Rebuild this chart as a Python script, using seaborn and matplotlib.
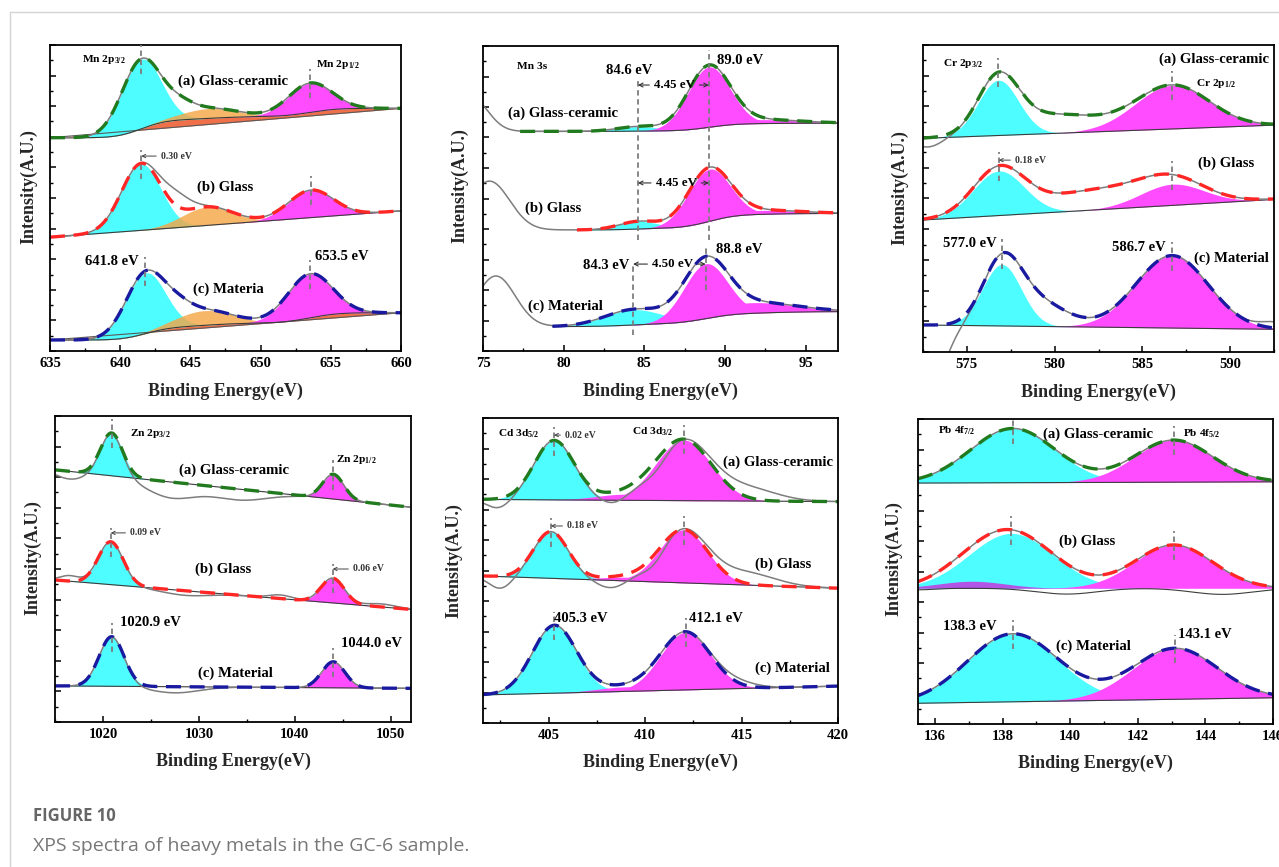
import numpy as np
import matplotlib
matplotlib.use("Agg")
import matplotlib.pyplot as plt
from matplotlib.lines import Line2D
from matplotlib.ticker import MultipleLocator
import seaborn as sns

# ---------------------------------------------------------------- data
SAMPLES = ["(a) Glass-ceramic", "(b) Glass", "(c) Material"]
MN2P_SAMPLES = ["(a) Glass-ceramic", "(b) Glass", "(c) Materia"]

# fitted components: (centre eV, height, gaussian sigma eV); heights in a.u.
MN2P_RANGE = (635, 660)
MN2P_BASE = [(69.7, 79.3), (37.2, 45.8), (3.6, 12.5)]
MN2P_PEAKS = [
    [(641.5, 22.7, 1.40), (646.3, 3.2, 2.0), (653.5, 9.6, 1.55)],
    [(641.5, 21.7, 1.40), (646.2, 6.0, 1.8), (653.6, 9.0, 1.60)],
    [(641.8, 19.8, 1.40), (646.0, 4.8, 2.0), (653.5, 14.4, 1.60)],
]
MN2P_HIDDEN = [[(644.3, 3.0, 1.0)], [], [(644.2, 3.0, 1.0)]]
MN2P_RAW = [[], [(644.0, 5.0, 1.0)], []]

MN3S_RANGE = (75, 97)
MN3S_BASE = [(72.0, 74.7), (39.7, 45.1), (8.0, 12.9)]
MN3S_PEAKS = [
    [(84.6, 1.5, 1.3), (89.0, 19.8, 1.30), (92.0, 1.3, 2.5)],
    [(84.6, 2.5, 1.2), (89.0, 17.1, 1.30), (92.0, 1.3, 2.5)],
    [(84.3, 5.0, 1.8), (88.8, 18.0, 1.35), (91.5, 3.5, 2.8)],
]
MN3S_RAW = [[(74.3, 11.0, 1.0)], [(75.4, 16.0, 1.25)], [(75.8, 16.6, 1.2)]]
MN3S_START = [77.3, 80.8, 79.3]
MN3S_SPLIT = ["4.45 eV", "4.45 eV", "4.50 eV"]

CR_RANGE = (572.5, 592.5)
CR_BASE = [(69.6, 73.9), (43.0, 49.7), (8.8, 7.4)]
CR_PEAKS = [
    [(576.8, 18.0, 1.15), (586.7, 14.2, 2.10)],
    [(576.82, 14.5, 1.45), (586.7, 6.9, 1.80)],
    [(577.0, 20.0, 1.10), (586.7, 23.6, 2.05)],
]
CR_HIDDEN = [[(580.0, 6.0, 2.5)], [(582.5, 6.5, 3.5)], [(579.0, 8.0, 1.6)]]
CR_RAW = [[(572.8, -3.0, 0.8)], [], [(572.3, -30.0, 1.1), (592.5, 2.0, 0.8)]]

ZN_RANGE = (1015, 1052.1)
ZN_BASE = [(82.4, 70.2), (46.4, 36.8), (11.8, 11.0)]
ZN_PEAKS = [
    [(1020.9, 14.0, 1.15), (1044.0, 8.1, 1.1)],
    [(1020.81, 14.0, 1.30), (1043.94, 8.1, 1.2)],
    [(1020.9, 16.2, 1.30), (1044.0, 8.5, 1.2)],
]
ZN_RAW = [
    [(1016.5, -2.5, 1.5), (1027.0, -5.0, 2.5), (1034.0, -3.5, 3.0)],
    [(1016.5, 1.8, 1.0), (1028.5, -1.5, 2.5), (1038.5, 1.2, 1.2), (1049.0, 1.0, 1.5)],
    [(1027.5, -2.0, 2.5)],
]

CD_RANGE = (401.6, 420)
CD_BASE = [(73.3, 72.6), (48.2, 44.2), (9.2, 12.1)]
CD_PEAKS = [
    [(405.28, 19.4, 1.03), (412.0, 19.9, 1.43), (409.0, 2.0, 1.5)],
    [(405.12, 15.3, 0.90), (412.0, 17.4, 1.25), (409.0, 1.2, 1.3)],
    [(405.3, 22.2, 1.14), (412.1, 18.9, 1.29), (409.0, 1.5, 1.5)],
]
CD_RAW = [
    [(402.4, -3.0, 0.6), (408.4, -3.5, 0.8), (410.6, -3.5, 0.7), (415.3, 4.0, 1.5)],
    [(402.5, -4.0, 0.6), (408.3, -3.6, 0.8), (410.5, -3.0, 0.6), (415.2, 4.0, 1.5)],
    [(414.8, 1.5, 1.0)],
]

PB_RANGE = (135.5, 146.0)
PB_BASE = [(79.0, 79.4), (44.5, 44.5), (6.8, 8.6)]
PB_PEAKS = [
    [(138.3, 17.8, 1.25), (143.06, 13.8, 1.15)],
    [(138.26, 18.0, 1.25), (143.06, 14.2, 1.15), (137.1, 2.3, 1.0)],
    [(138.3, 22.3, 1.34), (143.1, 16.7, 1.25)],
]
PB_WAVE = [[], [(135.5, -0.5, 0.5), (139.9, -1.9, 0.9), (144.5, -2.0, 0.9)], []]

# ---------------------------------------------------------------- style
CYAN, MAGENTA, ORANGE = "#4DFDFF", "#FF4CFF", "#F4A748"
TOMATO, PURPLE = "#F0704A", "#B255E6"
LINE_COLORS = ["#227A1E", "#FF2626", "#1A1AA0"]
GRAY = "#7d7d7d"

sns.set_theme(style="ticks")
plt.rcParams.update({
    "font.family": ["Liberation Serif", "DejaVu Serif"],
    "font.weight": "bold",
    "mathtext.fontset": "custom",
    "mathtext.rm": "Liberation Serif:bold",
    "mathtext.it": "Liberation Serif:bold:italic",
    "mathtext.bf": "Liberation Serif:bold",
    "axes.edgecolor": "black",
    "axes.linewidth": 1.3,
    "xtick.color": "black",
    "ytick.color": "black",
})

W, H = 1279, 867
fig = plt.figure(figsize=(W / 100, H / 100), dpi=100)


def add_axes(l, t, r, b):
    return fig.add_axes([l / W, 1 - b / H, (r - l) / W, (b - t) / H])


def gauss(x, c, h, w):
    return h * np.exp(-0.5 * ((x - c) / w) ** 2)


def csum(x, comps):
    return sum(gauss(x, *p) for p in comps) if comps else np.zeros_like(x)


def draw_panel(ax, xr, bases, peaks, colors, hidden=None, raw=None,
               shirley=None, wedge=None, starts=None, waves=None):
    x = np.linspace(xr[0], xr[1], 900)
    tops = []
    for i in range(3):
        comps = [gauss(x, *p) for p in peaks[i]]
        total = np.sum(comps, axis=0)
        lo, hi = bases[i]
        straight = lo + (hi - lo) * (x - x[0]) / (x[-1] - x[0])
        if shirley and shirley[i]:
            cum = np.cumsum(total)
            bg = lo + (hi - lo) * cum / cum[-1]
        else:
            bg = straight
        env = bg + total + csum(x, hidden[i] if hidden else None)
        gray = env + csum(x, raw[i] if raw else None)
        m = x >= (starts[i] if starts else xr[0])

        if wedge and wedge[i]:
            ax.fill_between(x, straight, bg, color=TOMATO, lw=0)
            ax.plot(x, straight, color="#5a5a5a", lw=0.8)
        for p, comp, col in zip(peaks[i], comps, colors):
            ax.fill_between(x[m], bg[m], (bg + comp)[m], where=comp[m] > 0.02,
                            color=col, lw=0,
                            alpha=0.82 if col == ORANGE else 1.0)
        base_line = bg + csum(x, waves[i] if waves else None)
        ax.plot(x[m], base_line[m], color="#3c3c3c", lw=0.8)
        sns.lineplot(x=x, y=gray, ax=ax, color=GRAY, linewidth=1.1,
                     estimator=None, sort=False)
        sns.lineplot(x=x[m], y=env[m], ax=ax, color=LINE_COLORS[i],
                     linewidth=2.4, linestyle=(0, (4.5, 2.6)),
                     estimator=None, sort=False)
        tops.append([np.interp(p[0], x, env) for p in peaks[i]])
    return tops


def marker(ax, xc, y0, y1):
    ax.plot([xc, xc], [y0, y1], color=GRAY, lw=1.3, ls=(0, (3, 2)), zorder=6)


def peak_markers(ax, peaks, tops, idx):
    for i in range(3):
        for k in idx:
            marker(ax, peaks[i][k][0], tops[i][k] - 5.0, tops[i][k] + 4.5)


def frac(ax, xf, yf):
    x0, x1 = ax.get_xlim()
    return x0 + xf * (x1 - x0), yf * 100


def txt(ax, xf, yf, s, size, ha="center"):
    ax.text(xf, yf, s, transform=ax.transAxes, ha=ha, va="center",
            fontsize=size, fontweight="bold", color="black", zorder=8)


def shift(ax, xf, yf, x_tip, value):
    x, y = frac(ax, xf, yf)
    ax.annotate(f"{value:.2f} eV", xy=(x_tip, y), xytext=(x, y),
                ha="left", va="center", fontsize=7, color="#333333",
                fontweight="bold", zorder=8,
                arrowprops=dict(arrowstyle="->", color="#444444", lw=0.7,
                                shrinkA=1, shrinkB=0, mutation_scale=6))


def style_axes(ax, xr, major, minor, ylab, xlab_y):
    ax.set_xlim(*xr)
    ax.set_ylim(0, 100)
    ax.xaxis.set_major_locator(MultipleLocator(major))
    ax.xaxis.set_minor_locator(MultipleLocator(minor))
    ax.yaxis.set_major_locator(MultipleLocator(10))
    ax.yaxis.set_minor_locator(MultipleLocator(5))
    ax.tick_params(axis="x", which="both", direction="in", top=False,
                   bottom=True, labelsize=10.5, pad=4)
    ax.tick_params(axis="y", which="both", direction="in", left=True,
                   right=False, labelleft=False)
    ax.tick_params(which="major", length=4.5, width=1.1)
    ax.tick_params(which="minor", length=2.5, width=1.0)
    for s in ax.spines.values():
        s.set_linewidth(1.3)
        s.set_color("black")
    ax.set_xlabel("Binding Energy(eV)", fontsize=13, fontweight="bold")
    ax.set_ylabel("Intensity(A.U.)", fontsize=13, fontweight="bold")
    ax.xaxis.set_label_coords(0.5, xlab_y)
    ax.yaxis.set_label_coords(*ylab)


def samples(ax, pos, names=SAMPLES):
    for (xf, yf), s in zip(pos, names):
        txt(ax, xf, yf, s, 10.6)


# ---------------------------------------------------------------- Mn 2p
ax = add_axes(50, 45, 401, 351)
style_axes(ax, MN2P_RANGE, 5, 2.5, (-0.037, 0.536), -0.105)
tops = draw_panel(ax, MN2P_RANGE, MN2P_BASE, MN2P_PEAKS, [CYAN, ORANGE, MAGENTA],
                  hidden=MN2P_HIDDEN, raw=MN2P_RAW, shirley=[True, False, True],
                  wedge=[True, False, True])
peak_markers(ax, MN2P_PEAKS, tops, [0, 2])
txt(ax, 0.154, 0.954, "Mn 2p$_{3/2}$", 8.2)
txt(ax, 0.819, 0.935, "Mn 2p$_{1/2}$", 8.2)
samples(ax, [(0.521, 0.882), (0.499, 0.536), (0.507, 0.203)], MN2P_SAMPLES)
txt(ax, 0.175, 0.291, f"{MN2P_PEAKS[2][0][0]:.1f} eV", 10.5)
txt(ax, 0.830, 0.310, f"{MN2P_PEAKS[2][2][0]:.1f} eV", 10.5)
shift(ax, 0.316, 0.637, MN2P_PEAKS[1][0][0], MN2P_PEAKS[2][0][0] - MN2P_PEAKS[1][0][0])

# ---------------------------------------------------------------- Mn 3s
ax = add_axes(483, 46, 838, 351)
style_axes(ax, MN3S_RANGE, 5, 2.5, (-0.042, 0.541), -0.105)
tops = draw_panel(ax, MN3S_RANGE, MN3S_BASE, MN3S_PEAKS, [CYAN, MAGENTA, MAGENTA],
                  raw=MN3S_RAW, shirley=[True, True, True], starts=MN3S_START)
marker(ax, MN3S_PEAKS[0][0][0], 36.4, 88.9)
marker(ax, MN3S_PEAKS[0][1][0], 36.4, 98.7)
marker(ax, MN3S_PEAKS[2][0][0], 5.2, 28.9)
marker(ax, MN3S_PEAKS[2][1][0], 20.0, 33.8)
txt(ax, 0.138, 0.934, "Mn 3s", 8.2)
samples(ax, [(0.224, 0.781), (0.197, 0.469), (0.231, 0.148)])
txt(ax, 0.411, 0.921, f"{MN3S_PEAKS[0][0][0]:.1f} eV", 10.5)
txt(ax, 0.723, 0.954, f"{MN3S_PEAKS[0][1][0]:.1f} eV", 10.5)
txt(ax, 0.346, 0.279, f"{MN3S_PEAKS[2][0][0]:.1f} eV", 10.5)
txt(ax, 0.723, 0.334, f"{MN3S_PEAKS[2][1][0]:.1f} eV", 10.5)
for i, (xf, yf) in enumerate([(0.539, 0.872), (0.544, 0.551), (0.534, 0.285)]):
    x, y = frac(ax, xf, yf)
    for j, (tip, col) in enumerate([(MN3S_PEAKS[i][0][0], "black"),
                                    (MN3S_PEAKS[i][1][0], "none")]):
        ax.annotate(MN3S_SPLIT[i], xy=(tip, y), xytext=(x, y), ha="center",
                    va="center", fontsize=9.3, fontweight="bold", color=col,
                    zorder=8,
                    arrowprops=dict(arrowstyle="->", color="#333333", lw=0.8,
                                    shrinkA=1, shrinkB=0, mutation_scale=7))

# ---------------------------------------------------------------- Cr 2p
ax = add_axes(923, 45, 1274, 352)
style_axes(ax, CR_RANGE, 5, 2.5, (-0.043, 0.537), -0.102)
tops = draw_panel(ax, CR_RANGE, CR_BASE, CR_PEAKS, [CYAN, MAGENTA],
                  hidden=CR_HIDDEN, raw=CR_RAW)
peak_markers(ax, CR_PEAKS, tops, [0, 1])
txt(ax, 0.115, 0.941, "Cr 2p$_{3/2}$", 8.2)
txt(ax, 0.835, 0.876, "Cr 2p$_{1/2}$", 8.2)
samples(ax, [(0.829, 0.954), (0.863, 0.616), (0.879, 0.306)])
txt(ax, 0.134, 0.355, f"{CR_PEAKS[2][0][0]:.1f} eV", 10.5)
txt(ax, 0.615, 0.342, f"{CR_PEAKS[2][1][0]:.1f} eV", 10.5)
shift(ax, 0.262, 0.625, CR_PEAKS[1][0][0], CR_PEAKS[2][0][0] - CR_PEAKS[1][0][0])

# ---------------------------------------------------------------- Zn 2p
ax = add_axes(55, 416, 411, 722)
style_axes(ax, ZN_RANGE, 10, 5, (-0.039, 0.538), -0.101)
tops = draw_panel(ax, ZN_RANGE, ZN_BASE, ZN_PEAKS, [CYAN, MAGENTA], raw=ZN_RAW)
peak_markers(ax, ZN_PEAKS, tops, [0, 1])
txt(ax, 0.267, 0.944, "Zn 2p$_{3/2}$", 8.2)
txt(ax, 0.847, 0.859, "Zn 2p$_{1/2}$", 8.2)
samples(ax, [(0.504, 0.824), (0.472, 0.500), (0.507, 0.160)])
txt(ax, 0.268, 0.324, f"{ZN_PEAKS[2][0][0]:.1f} eV", 10.5)
txt(ax, 0.888, 0.258, f"{ZN_PEAKS[2][1][0]:.1f} eV", 10.5)
shift(ax, 0.211, 0.618, ZN_PEAKS[1][0][0], ZN_PEAKS[2][0][0] - ZN_PEAKS[1][0][0])
shift(ax, 0.837, 0.500, ZN_PEAKS[1][1][0], ZN_PEAKS[2][1][0] - ZN_PEAKS[1][1][0])

# ---------------------------------------------------------------- Cd 3d
ax = add_axes(483, 418, 838, 723)
style_axes(ax, CD_RANGE, 5, 2.5, (-0.059, 0.534), -0.101)
tops = draw_panel(ax, CD_RANGE, CD_BASE, CD_PEAKS, [CYAN, MAGENTA, MAGENTA],
                  raw=CD_RAW)
peak_markers(ax, CD_PEAKS, tops, [0, 1])
txt(ax, 0.101, 0.948, "Cd 3d$_{5/2}$", 8.2)
txt(ax, 0.479, 0.954, "Cd 3d$_{3/2}$", 8.2)
samples(ax, [(0.830, 0.856), (0.846, 0.521), (0.872, 0.180)])
txt(ax, 0.276, 0.341, f"{CD_PEAKS[2][0][0]:.1f} eV", 10.5)
txt(ax, 0.656, 0.341, f"{CD_PEAKS[2][1][0]:.1f} eV", 10.5)
shift(ax, 0.231, 0.944, CD_PEAKS[0][0][0], CD_PEAKS[2][0][0] - CD_PEAKS[0][0][0])
shift(ax, 0.237, 0.646, CD_PEAKS[1][0][0], CD_PEAKS[2][0][0] - CD_PEAKS[1][0][0])

# ---------------------------------------------------------------- Pb 4f
ax = add_axes(918, 419, 1273, 724)
style_axes(ax, PB_RANGE, 2, 1, (-0.045, 0.544), -0.101)
tops = draw_panel(ax, PB_RANGE, PB_BASE, PB_PEAKS, [CYAN, MAGENTA, PURPLE],
                  waves=PB_WAVE)
peak_markers(ax, PB_PEAKS, tops, [0, 1])
txt(ax, 0.110, 0.961, "Pb 4f$_{7/2}$", 8.2)
txt(ax, 0.800, 0.951, "Pb 4f$_{5/2}$", 8.2)
samples(ax, [(0.507, 0.951), (0.477, 0.600), (0.493, 0.256)])
txt(ax, 0.146, 0.321, f"{PB_PEAKS[2][0][0]:.1f} eV", 10.5)
txt(ax, 0.808, 0.295, f"{PB_PEAKS[2][1][0]:.1f} eV", 10.5)

# ---------------------------------------------------------------- frame & caption
fig.add_artist(Line2D([10 / W, 1.0], [1 - 12 / H, 1 - 12 / H], color="#d4d4d4", lw=1.0))
fig.add_artist(Line2D([10 / W, 10 / W], [0.0, 1 - 12 / H], color="#d4d4d4", lw=1.0))
fig.text(33 / W, 1 - 816 / H, "FIGURE 10", fontfamily=["Open Sans", "DejaVu Sans"],
         fontweight="bold", fontsize=12, color="#666666", va="center")
fig.text(33 / W, 1 - 846 / H, "XPS spectra of heavy metals in the GC-6 sample.",
         fontfamily=["Open Sans", "DejaVu Sans"], fontweight="normal",
         fontsize=14, color="#777777", va="center")

fig.savefig("out.png", dpi=100, facecolor="white")
